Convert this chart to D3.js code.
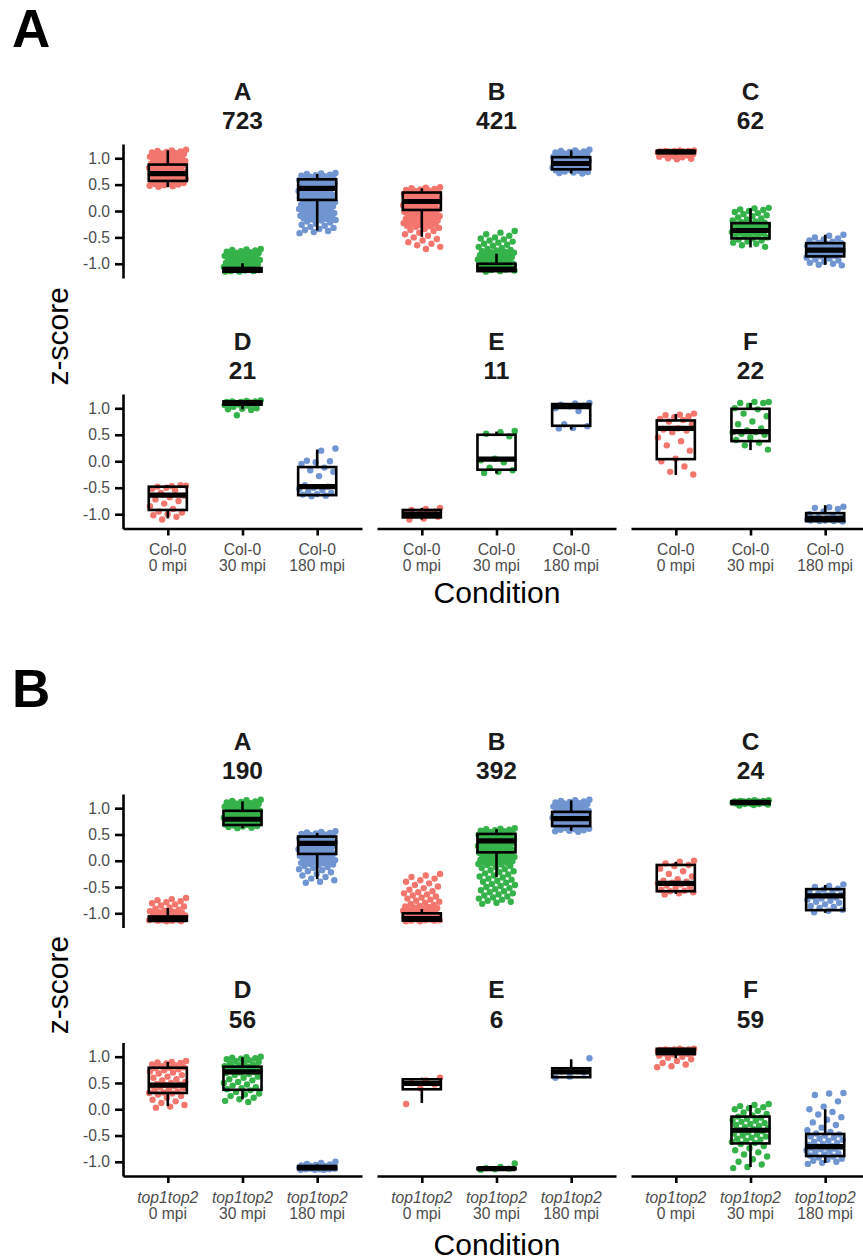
<!DOCTYPE html>
<html><head><meta charset="utf-8">
<script src="https://cdn.jsdelivr.net/npm/d3@7"></script>
<style>body{margin:0;background:#fff}svg{display:block}</style>
</head><body><div id="chart"></div>
<script>
// ---------------- DATA ----------------
const times = ["0 mpi", "30 mpi", "180 mpi"];
const genotypeA = "Col-0";
const genotypeB = "top1top2";
const clusters = ["A", "B", "C", "D", "E", "F"];
const countsA = [723, 421, 62, 21, 11, 22];
const countsB = [190, 392, 24, 56, 6, 59];
const yTicks = [-1.0, -0.5, 0.0, 0.5, 1.0];

// box stats per cluster, per condition: [lower whisker, q1, median, q3, upper whisker]
const boxA = [
  [[0.45, 0.57, 0.71, 0.88, 1.15], [-1.15, -1.15, -1.12, -1.08, -0.99], [-0.37, 0.21, 0.43, 0.60, 0.70]],
  [[-0.49, 0.02, 0.18, 0.35, 0.43], [-1.15, -1.14, -1.10, -1.00, -0.81], [0.71, 0.79, 0.90, 1.02, 1.15]],
  [[1.07, 1.10, 1.12, 1.14, 1.15], [-0.69, -0.52, -0.37, -0.23, 0.05], [-1.02, -0.86, -0.74, -0.61, -0.45]],
  [[-1.08, -0.92, -0.64, -0.48, -0.45], [0.98, 1.07, 1.10, 1.13, 1.15], [-0.66, -0.64, -0.48, -0.11, 0.22]],
  [[-1.10, -1.06, -1.00, -0.92, -0.88], [-0.23, -0.16, 0.04, 0.50, 0.56], [0.60, 0.67, 1.03, 1.08, 1.10]],
  [[-0.26, 0.04, 0.62, 0.77, 0.89], [0.21, 0.38, 0.56, 0.99, 1.10], [-1.15, -1.13, -1.08, -0.98, -0.83]]
];
const boxB = [
  [[-1.15, -1.14, -1.12, -1.06, -0.90], [0.62, 0.68, 0.79, 0.95, 1.13], [-0.35, 0.13, 0.33, 0.46, 0.53]],
  [[-1.15, -1.14, -1.10, -1.00, -0.92], [-0.31, 0.16, 0.38, 0.51, 0.60], [0.57, 0.66, 0.80, 0.93, 1.15]],
  [[-0.63, -0.58, -0.43, -0.08, -0.02], [1.06, 1.08, 1.11, 1.13, 1.15], [-0.99, -0.94, -0.67, -0.54, -0.46]],
  [[0.06, 0.31, 0.46, 0.79, 0.90], [0.19, 0.37, 0.71, 0.81, 0.99], [-1.15, -1.14, -1.11, -1.08, -1.05]],
  [[0.12, 0.38, 0.49, 0.57, 0.60], [-1.15, -1.14, -1.13, -1.12, -1.10], [0.60, 0.61, 0.71, 0.78, 0.95]],
  [[0.97, 1.05, 1.10, 1.15, 1.16], [-1.10, -0.65, -0.40, -0.14, 0.08], [-1.02, -0.89, -0.71, -0.47, 0.00]]
];

// gene z-scores (points) per cluster: [0 mpi, 30 mpi, 180 mpi]
const ptsA_A = [
  [1.16,1.15,1.14,1.13,1.12,1.11,1.10,1.09,1.08,1.07,1.06,1.05,1.04,1.03,1.02,1.01,1.00,0.99,0.98,0.97,0.96,0.95,0.94,0.93,0.92,0.91,0.90,0.89,0.88,0.87,0.86,0.85,0.84,0.83,0.82,0.81,0.80,0.79,0.78,0.77,0.76,0.75,0.74,0.73,0.72,0.71,0.70,0.69,0.68,0.67,0.66,0.65,0.64,0.63,0.62,0.61,0.60,0.59,0.58,0.57,0.56,0.55,0.54,0.53,0.52,0.51,0.50,0.49,0.48,0.47,0.46],
  [-0.72,-0.73,-0.74,-0.75,-0.76,-0.77,-0.78,-0.79,-0.80,-0.81,-0.82,-0.83,-0.84,-0.85,-0.86,-0.87,-0.88,-0.89,-0.90,-0.91,-0.92,-0.93,-0.94,-0.95,-0.96,-0.97,-0.98,-0.99,-1.00,-1.01,-1.02,-1.03,-1.04,-1.05,-1.06,-1.07,-1.08,-1.09,-1.10,-1.10,-1.11,-1.12,-1.12,-1.13,-1.14,-1.14,-1.15,-1.15],
  [0.72,0.71,0.70,0.69,0.68,0.67,0.66,0.65,0.64,0.63,0.62,0.61,0.60,0.59,0.58,0.57,0.56,0.55,0.54,0.53,0.52,0.51,0.50,0.49,0.48,0.47,0.46,0.45,0.44,0.43,0.42,0.41,0.40,0.39,0.38,0.37,0.36,0.35,0.34,0.33,0.32,0.31,0.30,0.29,0.28,0.27,0.26,0.25,0.24,0.23,0.22,0.21,0.20,0.19,0.18,0.17,0.16,0.15,0.14,0.13,0.12,0.11,0.10,0.09,0.08,0.07,0.06,0.05,0.04,0.03,0.02,0.01,0.00,-0.01,-0.02,-0.03,-0.04,-0.05,-0.06,-0.07,-0.08,-0.09,-0.10,-0.11,-0.12,-0.13,-0.14,-0.15,-0.16,-0.17,-0.18,-0.20,-0.22,-0.24,-0.26,-0.28,-0.30,-0.32,-0.34,-0.36,-0.38,-0.40,-0.42]
];
const ptsA_B = [
  [0.45,0.44,0.43,0.42,0.41,0.40,0.39,0.38,0.37,0.36,0.35,0.34,0.33,0.32,0.31,0.30,0.29,0.28,0.27,0.26,0.25,0.24,0.23,0.22,0.21,0.20,0.19,0.18,0.17,0.16,0.15,0.14,0.13,0.12,0.11,0.10,0.09,0.08,0.07,0.06,0.05,0.04,0.03,0.02,0.01,0.00,-0.01,-0.02,-0.03,-0.04,-0.05,-0.06,-0.07,-0.08,-0.09,-0.10,-0.11,-0.12,-0.13,-0.14,-0.15,-0.16,-0.17,-0.18,-0.19,-0.20,-0.21,-0.22,-0.23,-0.24,-0.25,-0.26,-0.27,-0.28,-0.29,-0.30,-0.32,-0.34,-0.36,-0.38,-0.41,-0.44,-0.47,-0.50,-0.53,-0.56,-0.59,-0.62,-0.65,-0.68,-0.72],
  [-0.38,-0.41,-0.44,-0.47,-0.50,-0.52,-0.54,-0.56,-0.58,-0.60,-0.62,-0.64,-0.66,-0.68,-0.70,-0.72,-0.74,-0.75,-0.76,-0.77,-0.78,-0.79,-0.80,-0.81,-0.82,-0.83,-0.84,-0.85,-0.86,-0.87,-0.88,-0.89,-0.90,-0.91,-0.92,-0.93,-0.94,-0.95,-0.96,-0.97,-0.98,-0.99,-1.00,-1.01,-1.02,-1.03,-1.04,-1.05,-1.06,-1.07,-1.08,-1.09,-1.10,-1.11,-1.12,-1.13,-1.14,-1.15],
  [1.16,1.15,1.14,1.13,1.12,1.11,1.10,1.09,1.08,1.07,1.06,1.05,1.04,1.03,1.02,1.01,1.00,0.99,0.98,0.97,0.96,0.95,0.94,0.93,0.92,0.91,0.90,0.89,0.88,0.87,0.86,0.85,0.84,0.83,0.82,0.81,0.80,0.79,0.78,0.77,0.76,0.75,0.74,0.73,0.72,0.71]
];
const ptsA_C = [
  [1.15,1.15,1.14,1.14,1.14,1.13,1.13,1.13,1.12,1.12,1.12,1.12,1.11,1.11,1.11,1.10,1.10,1.10,1.09,1.09,1.08,1.08,1.07,1.06,1.05,1.04,1.03,1.02,1.00,0.99,0.98],
  [0.06,0.05,0.03,0.02,0.00,-0.02,-0.04,-0.06,-0.08,-0.10,-0.12,-0.14,-0.16,-0.18,-0.20,-0.21,-0.22,-0.23,-0.24,-0.25,-0.26,-0.27,-0.28,-0.29,-0.30,-0.31,-0.32,-0.33,-0.34,-0.35,-0.36,-0.37,-0.38,-0.39,-0.40,-0.41,-0.42,-0.43,-0.44,-0.45,-0.46,-0.48,-0.50,-0.52,-0.54,-0.56,-0.58,-0.60,-0.62,-0.65,-0.68],
  [-0.45,-0.47,-0.50,-0.52,-0.54,-0.56,-0.58,-0.60,-0.61,-0.62,-0.63,-0.64,-0.65,-0.66,-0.67,-0.68,-0.69,-0.70,-0.71,-0.72,-0.73,-0.74,-0.75,-0.76,-0.77,-0.78,-0.79,-0.80,-0.81,-0.82,-0.83,-0.84,-0.85,-0.86,-0.88,-0.90,-0.92,-0.94,-0.96,-0.98,-1.00,-1.02,-1.03]
];
const ptsA_D = [
  [-0.46,-0.47,-0.48,-0.45,-0.50,-0.52,-0.55,-0.60,-0.65,-0.68,-0.72,-0.75,-0.80,-0.85,-0.90,-0.95,-0.97,-1.00,-1.02,-1.05,-1.10],
  [1.15,1.14,1.13,1.13,1.12,1.12,1.11,1.10,1.10,1.09,1.08,1.08,1.07,1.06,1.05,1.03,1.00,0.99,0.98,0.97,0.87],
  [0.24,0.20,0.01,0.00,-0.02,-0.05,-0.12,-0.17,-0.20,-0.28,-0.45,-0.48,-0.50,-0.52,-0.55,-0.58,-0.60,-0.62,-0.63,-0.65,-0.66]
];
const ptsA_E = [
  [-0.88,-0.90,-0.92,-0.95,-0.97,-1.00,-1.00,-1.02,-1.05,-1.08,-1.10],
  [0.57,0.55,0.52,0.47,0.05,0.02,-0.02,-0.12,-0.17,-0.20,-0.22],
  [1.10,1.09,1.07,1.05,1.04,1.00,0.95,0.70,0.66,0.63,0.62]
];
const ptsA_F = [
  [0.90,0.88,0.87,0.85,0.83,0.80,0.78,0.75,0.70,0.62,0.60,0.58,0.55,0.45,0.38,0.30,0.20,0.05,0.00,-0.10,-0.20,-0.25],
  [1.12,1.12,1.10,1.10,1.05,1.00,0.98,0.90,0.85,0.75,0.70,0.62,0.58,0.55,0.55,0.52,0.50,0.45,0.40,0.35,0.30,0.22],
  [-0.86,-0.87,-0.88,-0.90,-0.95,-1.00,-1.02,-1.05,-1.06,-1.07,-1.08,-1.08,-1.09,-1.10,-1.10,-1.10,-1.11,-1.12,-1.12,-1.13,-1.13,-1.14]
];
const ptsB_A = [
  [-0.71,-0.73,-0.75,-0.77,-0.79,-0.81,-0.83,-0.85,-0.87,-0.89,-0.91,-0.93,-0.95,-0.96,-0.97,-0.98,-0.99,-1.00,-1.01,-1.02,-1.03,-1.04,-1.05,-1.06,-1.07,-1.08,-1.09,-1.10,-1.10,-1.11,-1.11,-1.12,-1.12,-1.13,-1.13,-1.14,-1.14,-1.15,-1.15],
  [1.16,1.15,1.14,1.13,1.12,1.11,1.10,1.09,1.08,1.07,1.06,1.05,1.04,1.03,1.02,1.01,1.00,0.99,0.98,0.97,0.96,0.95,0.94,0.93,0.92,0.91,0.90,0.89,0.88,0.87,0.86,0.85,0.84,0.83,0.82,0.81,0.80,0.79,0.78,0.77,0.76,0.75,0.74,0.73,0.72,0.71,0.70,0.69,0.68,0.67,0.66,0.65,0.64,0.63,0.62],
  [0.56,0.55,0.54,0.53,0.52,0.51,0.50,0.49,0.48,0.47,0.46,0.45,0.44,0.43,0.42,0.41,0.40,0.39,0.38,0.37,0.36,0.35,0.34,0.33,0.32,0.31,0.30,0.29,0.28,0.27,0.26,0.25,0.24,0.23,0.22,0.21,0.20,0.19,0.18,0.17,0.16,0.15,0.14,0.13,0.12,0.11,0.10,0.09,0.08,0.07,0.06,0.05,0.04,0.03,0.02,0.01,0.00,-0.01,-0.02,-0.03,-0.04,-0.05,-0.06,-0.07,-0.08,-0.10,-0.12,-0.14,-0.16,-0.18,-0.20,-0.22,-0.25,-0.28,-0.31,-0.34,-0.37,-0.40,-0.42]
];
const ptsB_B = [
  [-0.25,-0.28,-0.31,-0.34,-0.37,-0.40,-0.43,-0.46,-0.49,-0.52,-0.55,-0.58,-0.60,-0.62,-0.64,-0.66,-0.68,-0.70,-0.72,-0.74,-0.76,-0.78,-0.80,-0.82,-0.84,-0.86,-0.87,-0.88,-0.89,-0.90,-0.91,-0.92,-0.93,-0.94,-0.95,-0.96,-0.97,-0.98,-0.99,-1.00,-1.01,-1.02,-1.03,-1.04,-1.05,-1.06,-1.07,-1.08,-1.09,-1.10,-1.10,-1.11,-1.11,-1.12,-1.12,-1.13,-1.13,-1.14,-1.14,-1.15,-1.15],
  [0.62,0.61,0.60,0.59,0.58,0.57,0.56,0.55,0.54,0.53,0.52,0.51,0.50,0.49,0.48,0.47,0.46,0.45,0.44,0.43,0.42,0.41,0.40,0.39,0.38,0.37,0.36,0.35,0.34,0.33,0.32,0.31,0.30,0.29,0.28,0.27,0.26,0.25,0.24,0.23,0.22,0.21,0.20,0.19,0.18,0.17,0.16,0.15,0.14,0.13,0.12,0.11,0.10,0.09,0.08,0.07,0.06,0.05,0.04,0.03,0.02,0.01,0.00,-0.01,-0.02,-0.03,-0.04,-0.05,-0.06,-0.07,-0.08,-0.10,-0.12,-0.14,-0.16,-0.18,-0.20,-0.22,-0.24,-0.26,-0.28,-0.30,-0.32,-0.34,-0.36,-0.38,-0.40,-0.42,-0.44,-0.46,-0.48,-0.50,-0.52,-0.54,-0.56,-0.58,-0.60,-0.62,-0.64,-0.66,-0.68,-0.70,-0.72,-0.74,-0.76,-0.78,-0.80,-0.82],
  [1.16,1.15,1.14,1.13,1.12,1.11,1.10,1.09,1.08,1.07,1.06,1.05,1.04,1.03,1.02,1.01,1.00,0.99,0.98,0.97,0.96,0.95,0.94,0.93,0.92,0.91,0.90,0.89,0.88,0.87,0.86,0.85,0.84,0.83,0.82,0.81,0.80,0.79,0.78,0.77,0.76,0.75,0.74,0.73,0.72,0.71,0.70,0.69,0.68,0.67,0.66,0.65,0.64,0.63,0.62,0.61,0.60,0.59,0.58,0.57,0.56,0.55]
];
const ptsB_C = [
  [0.00,-0.02,-0.05,-0.08,-0.10,-0.15,-0.20,-0.25,-0.30,-0.35,-0.38,-0.40,-0.42,-0.43,-0.45,-0.47,-0.50,-0.52,-0.55,-0.57,-0.58,-0.60,-0.62,-0.64],
  [1.15,1.15,1.14,1.14,1.14,1.13,1.13,1.13,1.12,1.12,1.12,1.11,1.11,1.11,1.10,1.10,1.10,1.09,1.09,1.08,1.08,1.07,1.06,1.05],
  [-0.45,-0.48,-0.50,-0.53,-0.55,-0.58,-0.60,-0.62,-0.64,-0.66,-0.68,-0.70,-0.72,-0.74,-0.76,-0.78,-0.80,-0.83,-0.86,-0.88,-0.90,-0.93,-0.95,-0.98]
];
const ptsB_D = [
  [0.92,0.90,0.89,0.88,0.87,0.85,0.84,0.82,0.80,0.79,0.78,0.76,0.74,0.72,0.70,0.68,0.65,0.62,0.60,0.57,0.55,0.52,0.50,0.48,0.47,0.46,0.45,0.44,0.42,0.40,0.38,0.36,0.34,0.32,0.31,0.30,0.28,0.25,0.22,0.18,0.15,0.12,0.08,0.05,0.03],
  [1.00,0.99,0.98,0.97,0.96,0.95,0.93,0.92,0.90,0.88,0.87,0.85,0.84,0.82,0.81,0.80,0.79,0.78,0.77,0.76,0.75,0.74,0.73,0.72,0.71,0.70,0.69,0.67,0.65,0.62,0.60,0.57,0.55,0.52,0.50,0.47,0.45,0.42,0.40,0.38,0.36,0.33,0.30,0.28,0.25,0.22,0.19,0.16,0.14],
  [-1.00,-1.02,-1.04,-1.05,-1.06,-1.07,-1.08,-1.08,-1.09,-1.09,-1.10,-1.10,-1.10,-1.11,-1.11,-1.11,-1.12,-1.12,-1.12,-1.13,-1.13,-1.13,-1.14,-1.14,-1.14,-1.15,-1.15,-1.15]
];
const ptsB_E = [
  [0.60,0.55,0.50,0.47,0.40,0.10],
  [-1.03,-1.10,-1.12,-1.13,-1.14,-1.15],
  [0.97,0.75,0.72,0.70,0.62,0.60]
];
const ptsB_F = [
  [1.15,1.15,1.14,1.14,1.14,1.13,1.13,1.13,1.12,1.12,1.12,1.11,1.11,1.11,1.10,1.10,1.10,1.09,1.09,1.08,1.08,1.07,1.07,1.06,1.05,1.04,1.02,1.00,0.98,0.95,0.92,0.88,0.85,0.82,0.80],
  [0.10,0.08,0.06,0.04,0.02,0.00,-0.03,-0.06,-0.09,-0.12,-0.14,-0.16,-0.18,-0.20,-0.22,-0.24,-0.26,-0.28,-0.30,-0.32,-0.34,-0.36,-0.38,-0.40,-0.42,-0.44,-0.46,-0.48,-0.50,-0.52,-0.54,-0.56,-0.58,-0.60,-0.62,-0.64,-0.66,-0.70,-0.74,-0.78,-0.82,-0.86,-0.90,-0.95,-1.00,-1.05,-1.10,-1.12],
  [0.31,0.30,0.27,0.15,0.05,0.00,-0.05,-0.10,-0.15,-0.20,-0.25,-0.30,-0.35,-0.40,-0.43,-0.46,-0.48,-0.50,-0.52,-0.54,-0.56,-0.58,-0.60,-0.62,-0.64,-0.66,-0.68,-0.70,-0.71,-0.72,-0.73,-0.74,-0.75,-0.76,-0.78,-0.80,-0.82,-0.84,-0.86,-0.88,-0.90,-0.92,-0.94,-0.96,-0.98,-1.00,-1.02,-1.04]
];

// ---------------- STYLE / LAYOUT ----------------
const colors = ["#F3766E", "#35B24A", "#7095D0"];
const FONT = "'Liberation Sans', Arial, Helvetica, sans-serif";
const W = 863, H = 1260;
const panelX = [123, 377, 631];
const panelW = 239;
const tickFont = 15.7;

const panels = [
  { tag: "A", genotype: genotypeA, italic: false, counts: countsA, boxes: boxA,
    pts: [ptsA_A, ptsA_B, ptsA_C, ptsA_D, ptsA_E, ptsA_F],
    rows: [[144, 278], [394, 528.5]], tagY: 46.7, condY: 603 },
  { tag: "B", genotype: genotypeB, italic: true, counts: countsB, boxes: boxB,
    pts: [ptsB_A, ptsB_B, ptsB_C, ptsB_D, ptsB_E, ptsB_F],
    rows: [[794, 927.5], [1042.5, 1176]], tagY: 706.7, condY: 1255 }
];

const svg = d3.select("#chart").append("svg")
  .attr("width", W).attr("height", H)
  .style("font-family", FONT);
svg.append("rect").attr("width", W).attr("height", H).attr("fill", "#fff");

const x = d3.scalePoint().domain(times).range([0, panelW]).padding(0.6);
const step = x.step();
const boxW = step * 0.51;
const jitHalf = step * 0.25;
const jit = i => (((i + 1) * 0.6180339887 + 0.37) % 1) - 0.5;

panels.forEach(p => {
  svg.append("text").attr("x", 12).attr("y", p.tagY)
    .attr("font-size", 53).attr("font-weight", "bold").attr("fill", "#000")
    .text(p.tag);

  clusters.forEach((cl, ci) => {
    const col = ci % 3, row = Math.floor(ci / 3);
    const [top, bottom] = p.rows[row];
    const h = bottom - top;
    const y = d3.scaleLinear().domain([-1.27, 1.27]).range([h, 0]);
    const g = svg.append("g").attr("transform", `translate(${panelX[col]},${top})`);

    const tt = g.append("text").attr("text-anchor", "middle")
      .attr("font-size", 24.5).attr("font-weight", "bold").attr("fill", "#1a1a1a");
    tt.append("tspan").attr("x", panelW / 2).attr("y", -44.5).text(cl);
    tt.append("tspan").attr("x", panelW / 2).attr("y", -15).text(p.counts[ci]);

    times.forEach((t, k) => {
      const vals = p.pts[ci][k];
      g.append("g").selectAll("circle").data(vals).join("circle")
        .attr("cx", (d, i) => x(t) + jit(i) * 2 * jitHalf)
        .attr("cy", d => y(d))
        .attr("r", 3.2)
        .attr("fill", colors[k]);
    });

    times.forEach((t, k) => {
      const [lo, q1, med, q3, hi] = p.boxes[ci][k];
      const cx = x(t);
      const bg = g.append("g").attr("stroke", "#000").attr("fill", "none");
      bg.append("line").attr("x1", cx).attr("x2", cx).attr("y1", y(q3)).attr("y2", y(hi)).attr("stroke-width", 2.6);
      bg.append("line").attr("x1", cx).attr("x2", cx).attr("y1", y(q1)).attr("y2", y(lo)).attr("stroke-width", 2.6);
      bg.append("rect").attr("x", cx - boxW / 2).attr("width", boxW)
        .attr("y", y(q3)).attr("height", Math.max(0.5, y(q1) - y(q3)))
        .attr("stroke-width", 2.6);
      bg.append("line").attr("x1", cx - boxW / 2).attr("x2", cx + boxW / 2)
        .attr("y1", y(med)).attr("y2", y(med)).attr("stroke-width", 5.2);
    });

    if (col === 0) {
      const ay = g.append("g").call(d3.axisLeft(y).tickValues(yTicks)
        .tickSize(8).tickSizeOuter(0).tickPadding(5).tickFormat(d => d.toFixed(1)));
      ay.select(".domain").attr("stroke", "#000").attr("stroke-width", 2.6);
      ay.selectAll(".tick line").attr("stroke", "#000").attr("stroke-width", 2.6);
      ay.selectAll(".tick text").attr("font-size", tickFont).attr("fill", "#4d4d4d")
        .attr("font-family", FONT);
    }
    if (row === 1) {
      const ax = g.append("g").attr("transform", `translate(0,${h})`)
        .call(d3.axisBottom(x).tickSize(7).tickSizeOuter(0).tickFormat(""));
      ax.select(".domain").attr("stroke", "#000").attr("stroke-width", 2.6);
      ax.selectAll(".tick line").attr("stroke", "#000").attr("stroke-width", 2.6);
      ax.selectAll(".tick text").remove();
      times.forEach(t => {
        const lab = g.append("text").attr("text-anchor", "middle")
          .attr("font-size", tickFont).attr("fill", "#4d4d4d");
        lab.append("tspan").attr("x", x(t)).attr("y", h + 26.5)
          .attr("font-style", p.italic ? "italic" : "normal").text(p.genotype);
        lab.append("tspan").attr("x", x(t)).attr("y", h + 42.5).text(t);
      });
    }
  });

  svg.append("text").attr("x", 497).attr("y", p.condY).attr("text-anchor", "middle")
    .attr("font-size", 30).attr("fill", "#000").text("Condition");
  const zc = (p.rows[0][0] + p.rows[1][1]) / 2;
  svg.append("text").attr("transform", `translate(68,${zc}) rotate(-90)`)
    .attr("text-anchor", "middle").attr("font-size", 30).attr("fill", "#000").text("z-score");
});
</script>
</body></html>
